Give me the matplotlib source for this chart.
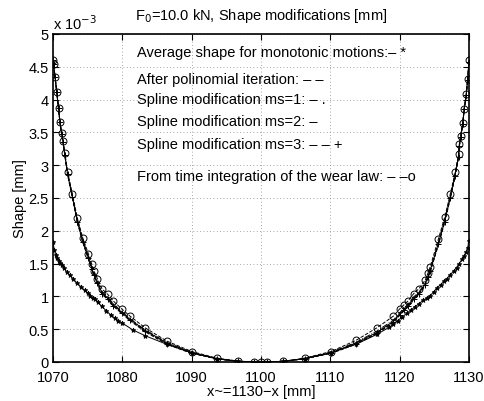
import matplotlib
matplotlib.use("Agg")
import matplotlib.pyplot as plt
from matplotlib.ticker import FuncFormatter, MultipleLocator

plt.rcParams['font.family'] = ['Liberation Sans', 'DejaVu Sans']

# x positions (x~ = 1130 - x, mm) of the steep shape curves
x_steep = [1070.0, 1070.1, 1070.3, 1070.55, 1070.8, 1071.0, 1071.25, 1071.45, 1071.7, 1072.1,
           1072.8, 1073.5, 1074.3, 1075.1, 1075.6, 1075.9, 1076.4, 1077.1, 1077.9, 1078.7,
           1079.9, 1081.1, 1083.3, 1086.4, 1090.0, 1093.6, 1096.7, 1099.0, 1100.0, 1100.9,
           1103.2, 1106.3, 1110.1, 1113.7, 1116.7, 1119.1, 1120.0, 1120.6, 1121.2, 1122.0,
           1122.8, 1123.7, 1124.1, 1124.4, 1125.6, 1126.5, 1127.3, 1128.0, 1128.5, 1128.6,
           1128.8, 1129.1, 1129.3, 1129.6, 1129.8, 1130.0]

# shapes in units of 1e-3 mm
y_wear = [4.61, 4.54, 4.34, 4.11, 3.87, 3.66, 3.49, 3.37, 3.19, 2.90,
          2.56, 2.20, 1.89, 1.65, 1.49, 1.39, 1.27, 1.11, 1.03, 0.93,
          0.81, 0.70, 0.52, 0.32, 0.16, 0.06, 0.015, 0.0, 0.0, 0.0,
          0.01, 0.06, 0.16, 0.33, 0.52, 0.70, 0.81, 0.87, 0.93, 1.04,
          1.12, 1.25, 1.36, 1.45, 1.88, 2.21, 2.56, 2.89, 3.17, 3.32,
          3.45, 3.65, 3.86, 4.08, 4.31, 4.60]

y_ms3 = [4.61, 4.54, 4.34, 4.11, 3.87, 3.66, 3.48, 3.35, 3.16, 2.86,
         2.51, 2.14, 1.83, 1.58, 1.42, 1.32, 1.20, 1.04, 0.96, 0.86,
         0.75, 0.64, 0.47, 0.28, 0.14, 0.05, 0.01, 0.0, 0.0, 0.0,
         0.01, 0.05, 0.14, 0.28, 0.44, 0.61, 0.72, 0.79, 0.85, 0.96,
         1.04, 1.18, 1.30, 1.38, 1.80, 2.14, 2.50, 2.84, 3.13, 3.29,
         3.43, 3.63, 3.85, 4.07, 4.30, 4.58]

y_poly = [4.60, 4.53, 4.33, 4.10, 3.86, 3.65, 3.47, 3.34, 3.15, 2.85,
          2.50, 2.13, 1.82, 1.57, 1.41, 1.31, 1.19, 1.03, 0.95, 0.85,
          0.74, 0.63, 0.46, 0.27, 0.13, 0.05, 0.01, 0.0, 0.0, 0.0,
          0.01, 0.05, 0.13, 0.27, 0.43, 0.60, 0.71, 0.78, 0.84, 0.95,
          1.03, 1.17, 1.29, 1.37, 1.79, 2.13, 2.49, 2.83, 3.12, 3.28,
          3.42, 3.62, 3.84, 4.06, 4.29, 4.57]

y_ms1 = [4.61, 4.54, 4.34, 4.11, 3.87, 3.66, 3.49, 3.36, 3.17, 2.88,
         2.53, 2.17, 1.86, 1.61, 1.45, 1.35, 1.23, 1.07, 0.99, 0.89,
         0.77, 0.66, 0.49, 0.30, 0.15, 0.05, 0.01, 0.0, 0.0, 0.0,
         0.01, 0.05, 0.15, 0.30, 0.47, 0.64, 0.75, 0.82, 0.88, 0.99,
         1.07, 1.21, 1.32, 1.41, 1.83, 2.17, 2.53, 2.86, 3.15, 3.30,
         3.44, 3.64, 3.85, 4.07, 4.30, 4.59]

y_ms2 = [4.60, 4.53, 4.33, 4.10, 3.86, 3.65, 3.48, 3.35, 3.16, 2.87,
         2.52, 2.15, 1.84, 1.59, 1.43, 1.33, 1.21, 1.05, 0.97, 0.87,
         0.76, 0.65, 0.48, 0.29, 0.14, 0.05, 0.01, 0.0, 0.0, 0.0,
         0.01, 0.05, 0.14, 0.29, 0.45, 0.62, 0.73, 0.80, 0.86, 0.97,
         1.05, 1.19, 1.31, 1.39, 1.81, 2.15, 2.51, 2.85, 3.14, 3.29,
         3.43, 3.63, 3.85, 4.07, 4.30, 4.58]

# average shape for monotonic motions
x_avg = [1070.0, 1070.2, 1070.4, 1070.6, 1070.8, 1071.0, 1071.3, 1071.6, 1072.0, 1072.4,
         1072.9, 1073.4, 1074.0, 1074.6, 1075.0, 1075.4, 1075.8, 1076.1, 1076.5, 1077.0,
         1077.7, 1078.3, 1078.9, 1079.4, 1079.9, 1081.5, 1083.3, 1086.4, 1090.0, 1093.6,
         1096.7, 1099.0, 1100.0, 1100.9, 1103.2, 1106.3, 1110.1, 1113.7, 1116.7, 1118.5,
         1119.1, 1119.7, 1120.3, 1121.0, 1121.6, 1122.2, 1122.8, 1123.4, 1124.0, 1124.4,
         1124.9, 1125.4, 1125.9, 1126.4, 1126.8, 1127.3, 1127.8, 1128.2, 1128.6, 1129.0,
         1129.3, 1129.6, 1129.8, 1130.0]
y_avg = [1.83, 1.70, 1.63, 1.58, 1.54, 1.51, 1.48, 1.43, 1.37, 1.32,
         1.27, 1.21, 1.15, 1.09, 1.05, 1.01, 0.98, 0.96, 0.91, 0.85,
         0.78, 0.72, 0.67, 0.63, 0.60, 0.49, 0.40, 0.27, 0.14, 0.05,
         0.01, 0.0, 0.0, 0.0, 0.01, 0.05, 0.14, 0.27, 0.42, 0.53,
         0.58, 0.63, 0.68, 0.74, 0.79, 0.84, 0.89, 0.94, 0.98, 1.01,
         1.07, 1.13, 1.18, 1.23, 1.27, 1.33, 1.39, 1.44, 1.50, 1.57,
         1.62, 1.68, 1.74, 1.85]

annotations = [
    "Average shape for monotonic motions:\u2013 *",
    "After polinomial iteration: \u2013 \u2013",
    "Spline modification ms=1: \u2013 .",
    "Spline modification ms=2: \u2013",
    "Spline modification ms=3: \u2013 \u2013 +",
    "From time integration of the wear law: \u2013 \u2013o",
]
annot_y = [4.72, 4.31, 4.01, 3.68, 3.32, 2.84]

FS = 10.5

fig = plt.figure(figsize=(4.85, 4.02), dpi=100)
ax = fig.add_axes([53/485, 39/402, 416/485, 328/402])

lw = 0.7
ax.plot(x_avg, y_avg, '-', color='k', lw=lw, marker='*', ms=3.5, mew=0.6)
ax.plot(x_steep, y_poly, '--', color='k', lw=lw)
ax.plot(x_steep, y_ms1, '-.', color='k', lw=lw)
ax.plot(x_steep, y_ms2, '-', color='k', lw=lw)
ax.plot(x_steep, y_ms3, '--', color='k', lw=lw, marker='+', ms=5, mew=0.7)
ax.plot(x_steep, y_wear, '--', color='k', lw=lw, marker='o', ms=5, mfc='none', mew=0.7)

ax.set_xlim(1070, 1130)
ax.set_ylim(0, 5)
ax.xaxis.set_major_locator(MultipleLocator(10))
ax.yaxis.set_major_locator(MultipleLocator(0.5))
ax.yaxis.set_major_formatter(FuncFormatter(lambda v, p: '%g' % v))
ax.grid(True, linestyle=(0, (1, 3)), color='#888888', lw=0.6)
ax.tick_params(direction='in', length=4, top=True, right=True, labelsize=FS, width=0.8)
ax.tick_params(axis='x', pad=6)
ax.tick_params(axis='y', pad=3)
for s in ax.spines.values():
    s.set_linewidth(1.2)

for t, yy in zip(annotations, annot_y):
    ax.text(1082.1, yy, t, fontsize=FS, ha='left', va='center')

ax.text(0.0, 1.005, "x 10$^{-3}$", transform=ax.transAxes, fontsize=FS,
        ha='left', va='bottom')
ax.set_title("F$_0$=10.0 kN, Shape modifications [mm]", fontsize=FS, pad=11)
ax.set_xlabel("x~=1130\u2212x [mm]", fontsize=FS, labelpad=0)
ax.set_ylabel("Shape [mm]", fontsize=FS, labelpad=1)

fig.savefig("out.png", dpi=100)
